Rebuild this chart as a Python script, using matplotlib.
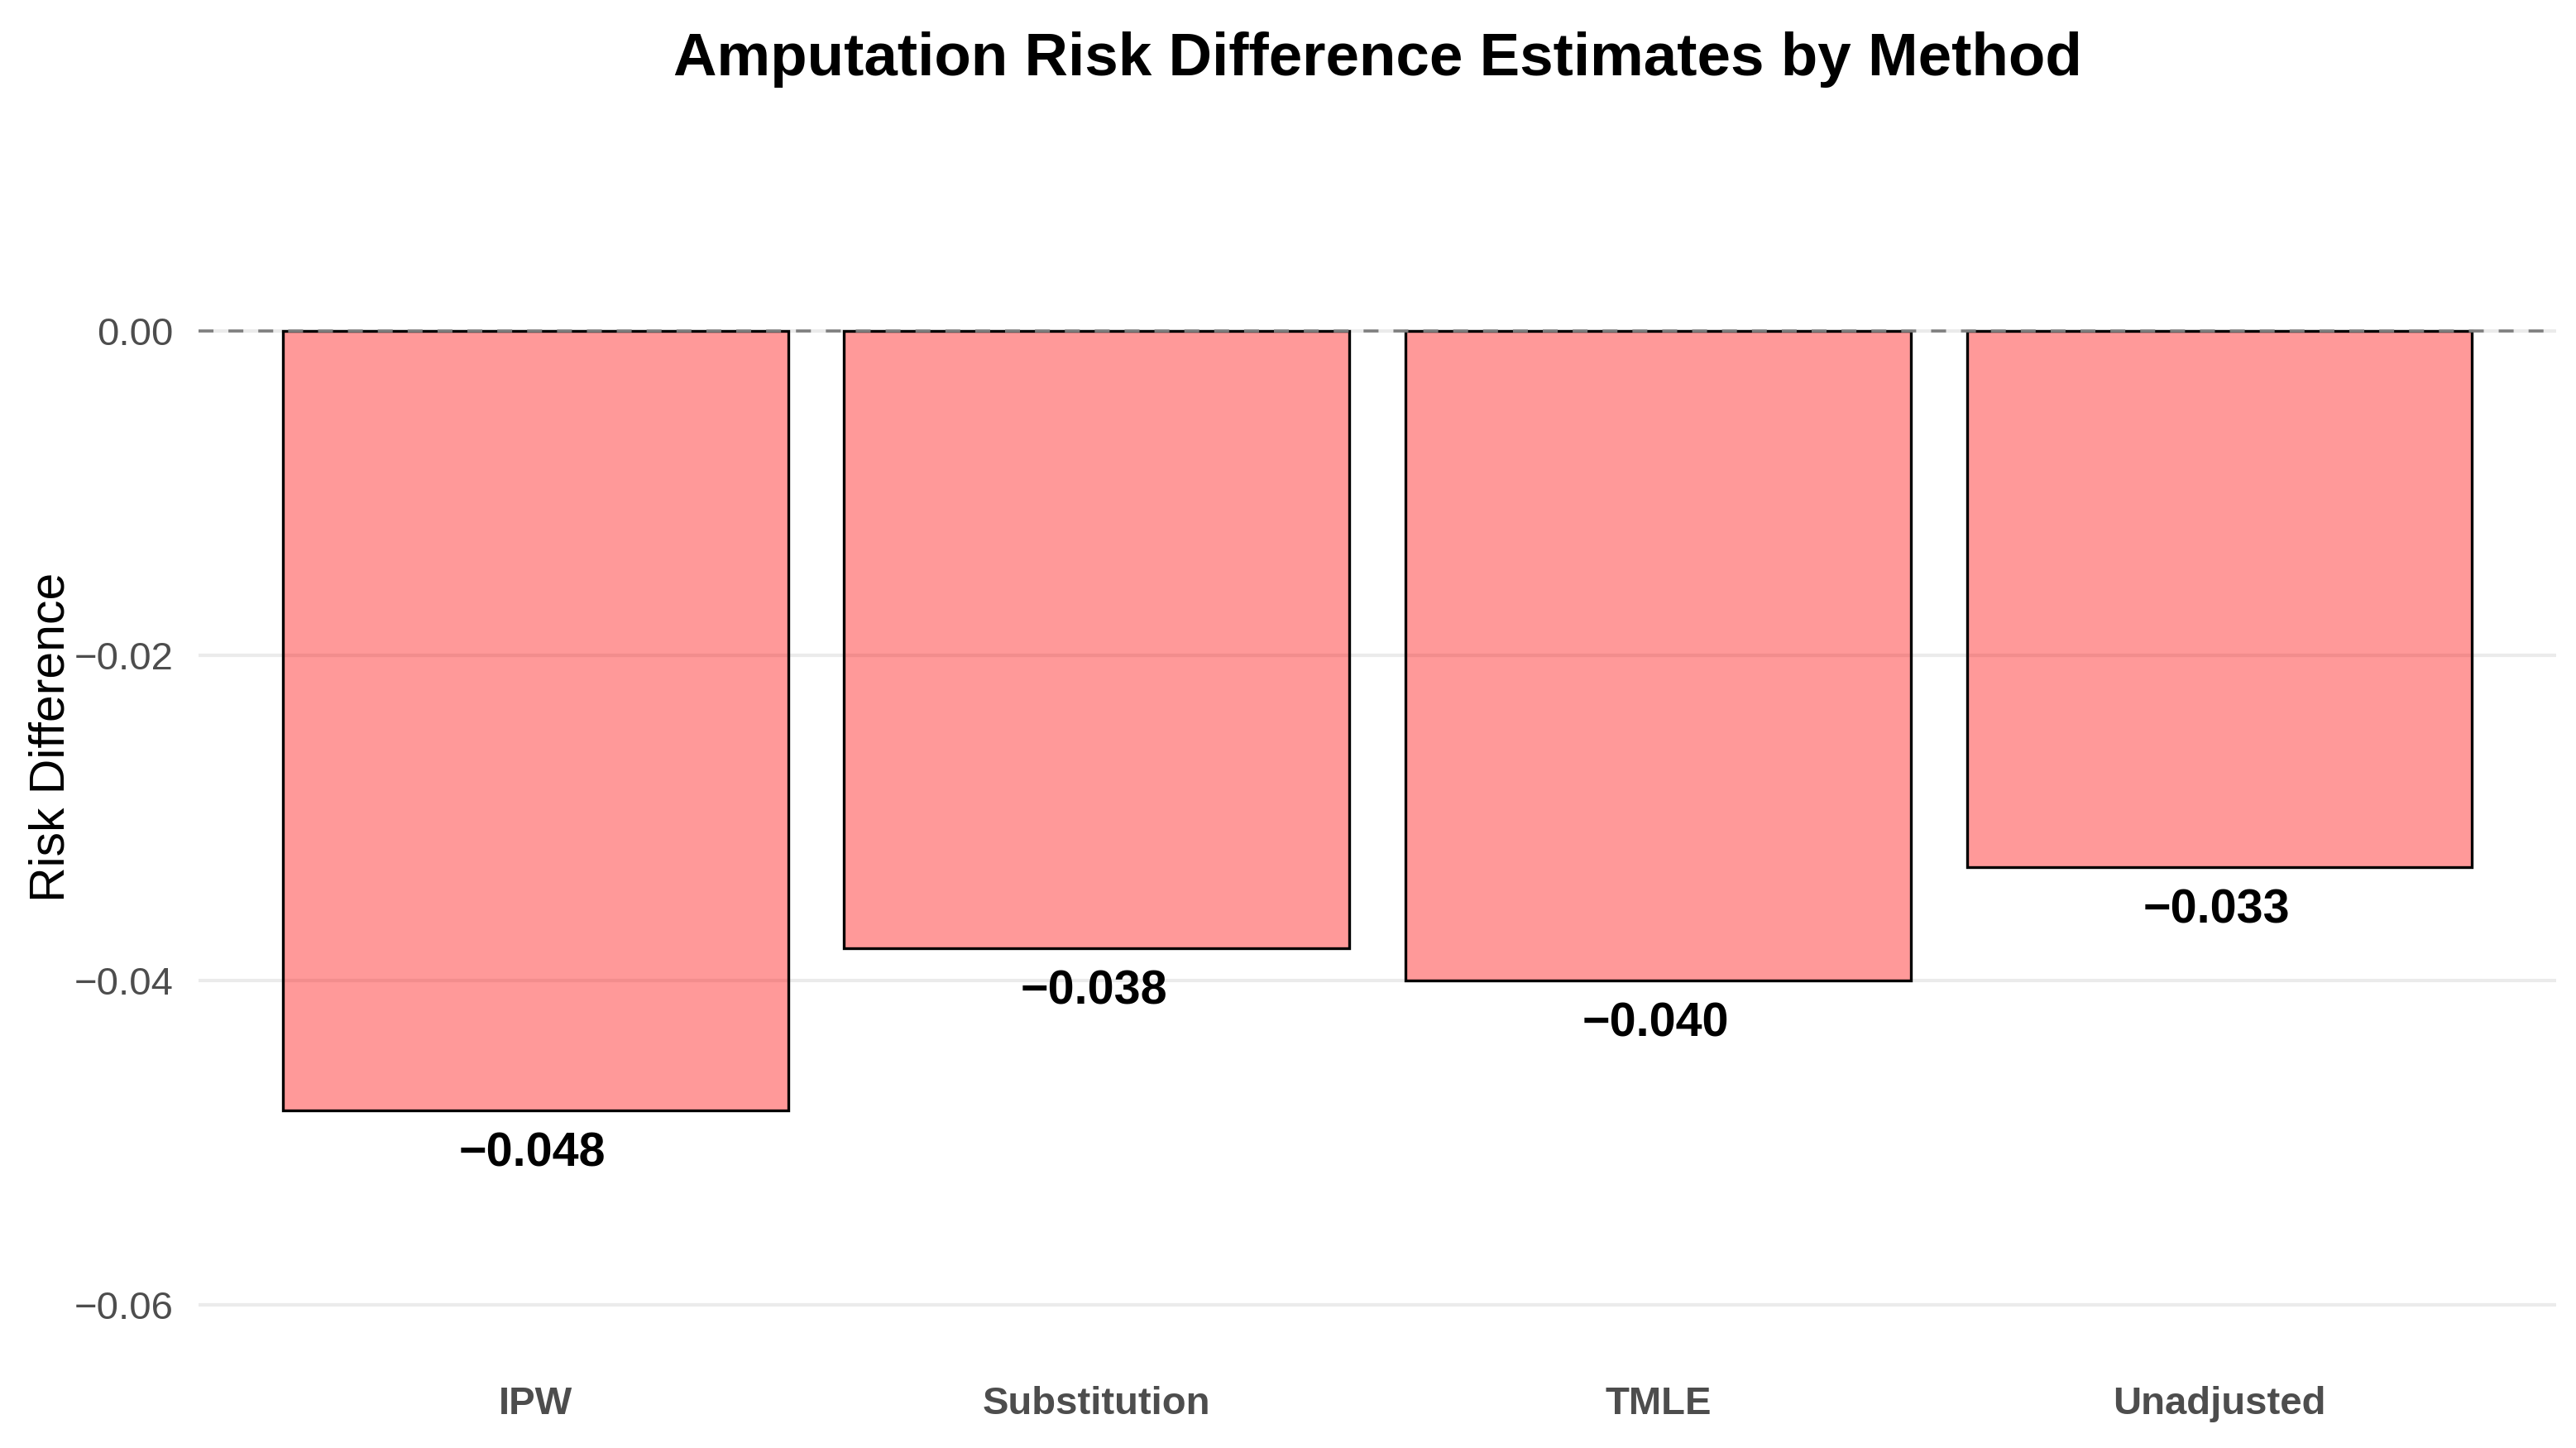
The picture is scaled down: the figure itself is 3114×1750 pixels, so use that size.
import numpy as np
import matplotlib
matplotlib.use("Agg")
import matplotlib.pyplot as plt
from matplotlib.ticker import FuncFormatter

plt.rcParams['font.family'] = ['Liberation Sans', 'DejaVu Sans']

# Data

methods = ['IPW', 'Substitution', 'TMLE', 'Unadjusted']
risk_diff = [-0.048, -0.038, -0.040, -0.033]
y_ticks = [0.00, -0.02, -0.04, -0.06]

# Figure

fig = plt.figure(figsize=(15.57, 8.75), dpi=200)
ax = fig.add_axes([0.0771, 0.0594, 0.9152, 0.8634])

x = np.arange(len(methods))

ax.set_axisbelow(True)
ax.yaxis.grid(True, color='#EBEBEB', linewidth=1.5)
ax.xaxis.grid(False)

ax.bar(x, risk_diff, width=0.9, color=(1, 0, 0, 0.4), edgecolor='black',
       linewidth=1.2, zorder=2)
ax.axhline(0, color='#7F7F7F', linestyle=(0, (5, 5)), linewidth=1.3, zorder=3)

# value labels under the bars
for xi, v in zip(x, risk_diff):
    ax.text(xi - 0.005, v - 0.00344, f"{v:.3f}".replace('-', '\u2212'), ha='center',
            va='baseline', fontsize=20.7, fontweight='bold', color='black',
            zorder=4)

ax.set_xlim(-0.6, len(methods) - 0.4)
ax.set_ylim(-0.0635, 0.0135)
ax.set_yticks(y_ticks)
ax.yaxis.set_major_formatter(FuncFormatter(lambda v, p: f"{v:.2f}".replace('-', '\u2212')))
ax.set_xticks(x)
ax.set_xticklabels(methods, fontweight='bold')

ax.tick_params(axis='both', length=0, labelsize=17, labelcolor='#4D4D4D')
ax.tick_params(axis='x', pad=10.5)
ax.tick_params(axis='y', pad=11)

for s in ax.spines.values():
    s.set_visible(False)

ax.set_ylabel('Risk Difference', fontsize=21.2, color='black')
ax.yaxis.set_label_coords(-0.053, 0.5)

fig.text(0.5347, 1 - 91 / 1750, 'Amputation Risk Difference Estimates by Method',
         ha='center', va='baseline', fontsize=26.2, fontweight='bold')

fig.savefig('out.png', dpi=200, facecolor='white')
